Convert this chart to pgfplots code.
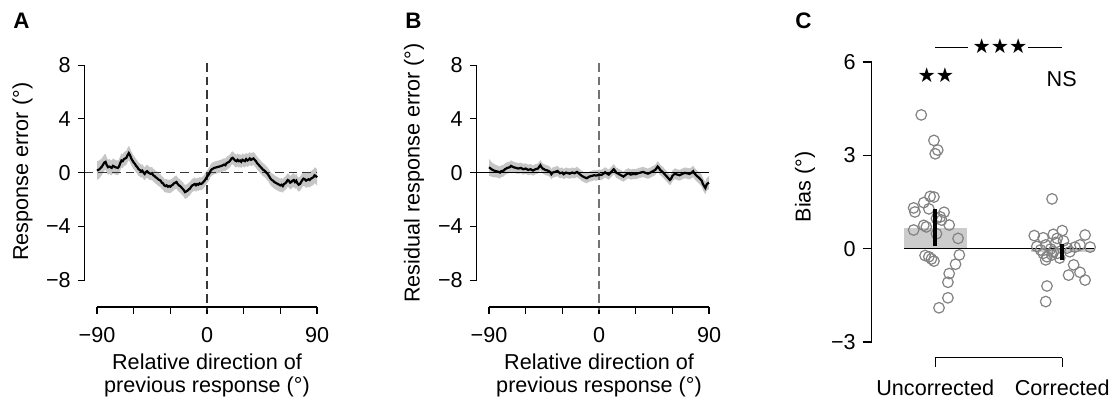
\documentclass[border=0pt]{standalone}
\usepackage{fontspec}
\setmainfont{Liberation Sans}
\newfontfamily\dejavu{DejaVu Sans}
\usepackage{pgfplots}
\pgfplotsset{compat=1.18}
\usepackage{pgfplotstable}
\definecolor{band}{RGB}{198,198,198}
\definecolor{bargray}{RGB}{204,204,204}
\definecolor{circ}{RGB}{130,130,130}
\definecolor{dashA}{RGB}{55,55,55}
\definecolor{dashB}{RGB}{115,115,115}
\newcommand\fs{\fontsize{10.8}{12.8}\selectfont}

\pgfplotstableread{
x y e
-90 0.15 0.70
-88 0.25 0.66
-86 0.45 0.62
-84 0.75 0.60
-83 0.80 0.58
-82 0.55 0.57
-81 0.40 0.56
-80 0.45 0.55
-78 0.35 0.55
-77 0.50 0.55
-75 0.40 0.54
-73 0.35 0.54
-72 0.45 0.53
-71 0.70 0.53
-70 0.90 0.52
-69 0.85 0.52
-68 1.00 0.52
-67 1.05 0.52
-66 1.10 0.53
-65 1.30 0.53
-64 1.45 0.54
-63 1.30 0.53
-62 1.05 0.52
-61 0.90 0.51
-60 0.75 0.50
-59 0.65 0.50
-58 0.50 0.50
-57 0.40 0.49
-56 0.25 0.49
-55 0.20 0.49
-54 0.10 0.48
-53 0.15 0.48
-52 0.00 0.48
-51 -0.10 0.48
-50 0.05 0.48
-49 0.10 0.48
-48 0.00 0.48
-47 -0.05 0.48
-46 -0.10 0.48
-45 -0.05 0.48
-44 -0.20 0.48
-43 -0.25 0.48
-42 -0.35 0.48
-41 -0.40 0.48
-40 -0.50 0.48
-39 -0.55 0.48
-38 -0.60 0.48
-37 -0.75 0.48
-36 -0.80 0.48
-35 -0.95 0.49
-34 -1.00 0.49
-33 -0.95 0.49
-32 -1.05 0.49
-31 -1.00 0.49
-30 -1.05 0.49
-29 -0.95 0.49
-28 -0.90 0.49
-27 -0.80 0.49
-26 -0.75 0.49
-25 -0.70 0.49
-24 -0.85 0.49
-23 -0.95 0.49
-22 -1.00 0.49
-21 -1.10 0.50
-20 -1.20 0.50
-19 -1.30 0.50
-18 -1.45 0.51
-17 -1.40 0.51
-16 -1.35 0.51
-15 -1.25 0.50
-14 -1.20 0.50
-13 -1.05 0.49
-12 -0.95 0.49
-11 -0.90 0.48
-10 -0.85 0.48
-9 -0.95 0.48
-8 -0.85 0.47
-7 -0.90 0.47
-6 -0.80 0.47
-5 -0.85 0.47
-4 -0.80 0.47
-3 -0.70 0.47
-2 -0.60 0.47
-1 -0.45 0.47
0 -0.30 0.47
1 -0.20 0.47
2 -0.05 0.47
3 0.15 0.47
4 0.25 0.47
5 0.30 0.47
6 0.35 0.47
8 0.40 0.47
10 0.45 0.47
12 0.50 0.47
14 0.60 0.47
15 0.55 0.47
16 0.70 0.48
18 0.80 0.48
19 0.90 0.48
20 1.05 0.48
21 1.10 0.48
22 1.00 0.48
23 0.90 0.48
24 0.85 0.48
25 0.95 0.48
26 0.85 0.48
27 0.90 0.48
28 0.80 0.48
29 0.95 0.48
30 0.90 0.48
31 0.85 0.48
32 1.00 0.48
33 0.90 0.48
34 0.95 0.48
35 1.05 0.48
36 0.95 0.48
37 1.00 0.48
38 1.05 0.48
39 0.95 0.48
40 0.85 0.48
41 0.70 0.48
42 0.60 0.48
43 0.50 0.48
44 0.40 0.48
45 0.30 0.48
46 0.20 0.48
47 0.15 0.48
48 0.05 0.48
49 -0.05 0.48
50 -0.15 0.48
51 -0.30 0.49
52 -0.45 0.49
53 -0.55 0.49
54 -0.60 0.50
55 -0.70 0.50
56 -0.75 0.50
57 -0.80 0.50
58 -0.85 0.50
59 -0.90 0.50
60 -0.95 0.50
61 -0.90 0.50
62 -1.00 0.50
63 -0.85 0.50
64 -0.80 0.50
65 -0.70 0.50
66 -0.55 0.50
67 -0.60 0.50
68 -0.75 0.50
69 -0.70 0.51
70 -0.60 0.51
71 -0.55 0.51
72 -0.70 0.51
73 -0.60 0.52
74 -0.80 0.52
75 -0.90 0.52
76 -0.85 0.52
77 -0.70 0.53
78 -0.55 0.53
79 -0.45 0.53
80 -0.50 0.54
81 -0.60 0.54
82 -0.55 0.55
83 -0.50 0.55
84 -0.55 0.56
85 -0.45 0.56
86 -0.40 0.57
87 -0.35 0.58
88 -0.20 0.59
89 -0.25 0.60
90 -0.35 0.60
}\dataA

\pgfplotstableread{
x y e
-90 0.40 0.62
-88 0.25 0.55
-86 0.15 0.50
-84 0.10 0.46
-82 0.05 0.45
-81 0.00 0.44
-80 0.10 0.44
-78 0.15 0.43
-77 0.25 0.43
-75 0.35 0.43
-73 0.40 0.42
-72 0.50 0.42
-70 0.40 0.41
-68 0.35 0.41
-66 0.30 0.40
-64 0.35 0.40
-62 0.25 0.40
-60 0.30 0.39
-58 0.20 0.39
-56 0.25 0.39
-54 0.15 0.38
-52 0.25 0.38
-50 0.30 0.38
-48 0.55 0.38
-47 0.40 0.38
-46 0.30 0.38
-44 0.20 0.38
-42 0.15 0.38
-40 0.05 0.38
-39 -0.12 0.38
-38 0.00 0.38
-36 0.05 0.38
-34 0.12 0.38
-32 -0.05 0.38
-30 0.00 0.38
-29 -0.12 0.38
-27 0.00 0.38
-25 -0.05 0.38
-24 -0.08 0.38
-22 0.00 0.38
-20 -0.05 0.38
-18 0.05 0.38
-16 -0.10 0.38
-14 -0.25 0.38
-12 -0.35 0.38
-10 -0.42 0.38
-8 -0.30 0.38
-6 -0.25 0.38
-4 -0.20 0.38
-2 -0.22 0.38
0 -0.15 0.38
2 -0.18 0.38
4 -0.05 0.38
5 0.02 0.38
6 -0.05 0.38
8 -0.15 0.38
10 0.05 0.38
12 0.25 0.38
13 0.15 0.38
14 0.00 0.38
16 -0.10 0.38
18 -0.20 0.38
20 -0.30 0.38
22 -0.15 0.38
24 -0.05 0.38
26 -0.15 0.38
28 -0.10 0.38
30 -0.12 0.38
32 -0.05 0.38
34 0.00 0.38
36 0.05 0.38
38 -0.02 0.38
40 -0.08 0.38
42 0.00 0.38
44 0.10 0.38
46 0.20 0.38
48 0.45 0.39
49 0.35 0.39
50 0.20 0.39
52 0.05 0.39
54 -0.15 0.39
56 -0.35 0.39
58 -0.55 0.39
59 -0.45 0.39
60 -0.25 0.39
62 -0.08 0.40
64 -0.15 0.40
66 -0.20 0.40
68 -0.10 0.40
70 -0.02 0.40
72 -0.05 0.41
74 -0.10 0.41
76 0.00 0.41
77 0.10 0.42
78 -0.05 0.42
80 -0.25 0.42
82 -0.40 0.43
84 -0.60 0.44
85 -0.85 0.45
86 -1.00 0.45
87 -1.15 0.46
88 -0.90 0.47
89 -0.80 0.48
90 -0.75 0.48
}\dataB

\pgfplotstableread{
x y
0.89 4.30
0.99 3.48
1.02 3.17
1.00 3.05
0.96 1.68
0.99 1.66
0.91 1.48
0.83 1.31
0.84 1.18
0.95 1.28
1.07 1.17
1.04 1.02
1.05 0.92
1.01 0.97
0.91 0.75
0.93 0.70
0.83 0.60
1.11 0.76
1.01 0.48
1.18 0.33
0.92 -0.22
0.95 -0.26
0.97 -0.33
0.99 -0.40
1.19 -0.20
1.16 -0.50
1.11 -0.80
1.10 -1.08
1.10 -1.58
1.03 -1.90
}\dataCu

\pgfplotstableread{
x y
1.92 1.60
1.78 0.42
1.85 0.35
1.93 0.46
2.00 0.58
1.96 0.33
2.01 0.25
2.18 0.44
2.14 0.12
2.10 0.05
1.80 0.07
1.87 0.12
1.91 -0.01
1.93 -0.10
1.85 -0.15
1.83 -0.04
1.88 -0.26
1.87 -0.36
1.92 -0.20
1.96 -0.15
2.04 0.02
2.06 -0.10
1.98 -0.30
2.09 -0.52
2.05 -0.85
2.14 -0.76
2.18 -1.01
1.88 -1.20
1.87 -1.70
2.22 0.05
1.95 0.20
}\dataCc

\pgfplotsset{
  panel/.style={
    anchor=south west,
    axis line style={draw=none},
    tick pos=left, tick align=outside,
    every tick/.style={black, line width=0.55pt},
    ticklabel style={font=\fs},
    xticklabel style={yshift=-3.3pt},
    clip=false,
  },
  curvepanel/.style={
    panel,
    x=0.6111pt, y=6.72pt,
    xmin=-100, xmax=92, ymin=-10, ymax=8.5,
    major tick length=3.5pt,
    xtick={-90,-60,-30,0,30,60,90},
    xticklabels={−90,,,0,,,90},
    ytick={-8,-4,0,4,8},
    yticklabels={−8,−4,0,4,8},
  },
  cgeom/.style={
    anchor=south west, clip=false,
    at={(435.85pt,23.72pt)},
    x=63.5pt, y=15.555pt,
    xmin=0.5, xmax=2.3, ymin=-3.5, ymax=6.5,
  },
}

\begin{document}
\begin{tikzpicture}[font=\fs]
\path[use as bounding box] (0,0) rectangle (556pt,202.5pt);

% ---------- Panel A ----------
\begin{axis}[curvepanel, at={(42.4pt,49pt)}]
\addplot[draw=none, stack plots=y] table[x=x, y expr=\thisrow{y}-\thisrow{e}] {\dataA};
\addplot[fill=band, draw=none, stack plots=y] table[x=x, y expr=2*\thisrow{e}] {\dataA} \closedcycle;
\addplot[dashA, line width=0.55pt, dash pattern=on 4.3pt off 2.5pt] coordinates {(-100,0) (90,0)};
\addplot[dashA, line width=0.55pt, dash pattern=on 4.3pt off 2.5pt] coordinates {(0,8.15) (0,-10.25)};
\addplot[black, line width=1.1pt] table[x=x, y=y] {\dataA};
\draw[line width=0.55pt] (axis cs:-100,-8) -- (axis cs:-100,8);
\draw[line width=0.55pt] (axis cs:-90,-10) -- (axis cs:90,-10);
\end{axis}

% ---------- Panel B ----------
\begin{axis}[curvepanel, at={(238.4pt,49pt)}]
\addplot[draw=none, stack plots=y] table[x=x, y expr=\thisrow{y}-\thisrow{e}] {\dataB};
\addplot[fill=band, draw=none, stack plots=y] table[x=x, y expr=2*\thisrow{e}] {\dataB} \closedcycle;
\addplot[black, line width=0.5pt] coordinates {(-100,0) (90,0)};
\addplot[dashB, line width=0.55pt, dash pattern=on 4.3pt off 2.5pt] coordinates {(0,8.15) (0,-10.25)};
\addplot[black, line width=1.1pt] table[x=x, y=y] {\dataB};
\draw[line width=0.55pt] (axis cs:-100,-8) -- (axis cs:-100,8);
\draw[line width=0.55pt] (axis cs:-90,-10) -- (axis cs:90,-10);
\end{axis}

% ---------- Panel C ----------
\begin{axis}[panel, cgeom,
  major tick length=4.5pt,
  xtick={1,2}, xticklabels={Uncorrected,Corrected},
  ytick={-3,0,3,6}, yticklabels={−3,0,3,6},
]
\addplot[fill=bargray, draw=none] coordinates {(0.756,0) (1.25,0) (1.25,0.68) (0.756,0.68)} -- cycle;
\addplot[fill=bargray, draw=none] coordinates {(1.754,0) (2.247,0) (2.247,-0.10) (1.754,-0.10)} -- cycle;
\addplot[black, line width=0.6pt] coordinates {(0.756,0) (2.247,0)};
\addplot[only marks, mark=o, mark size=2.65pt, mark options={draw=circ, fill=none, line width=0.6pt}] table[x=x,y=y] {\dataCu};
\addplot[only marks, mark=o, mark size=2.65pt, mark options={draw=circ, fill=none, line width=0.6pt}] table[x=x,y=y] {\dataCc};
\draw[line width=0.55pt] (axis cs:0.5,-3) -- (axis cs:0.5,6);
\draw[line width=0.55pt] (axis cs:1,-3.5) -- (axis cs:2,-3.5);
\end{axis}
% error bars on top of the circles
\begin{axis}[cgeom, hide axis]
\addplot[black, line width=1.9pt] coordinates {(1.0,0.10) (1.0,1.28)};
\addplot[black, line width=1.9pt] coordinates {(2.0,-0.36) (2.0,0.15)};
\end{axis}

% ---------- Text ----------
\node[anchor=base west, inner sep=0, font=\fontsize{11.2}{13}\selectfont\bfseries] at (6.5pt,188pt) {A};
\node[anchor=base west, inner sep=0, font=\fontsize{11.2}{13}\selectfont\bfseries] at (202.5pt,188pt) {B};
\node[anchor=base west, inner sep=0, font=\fontsize{11.2}{13}\selectfont\bfseries] at (397.5pt,188pt) {C};

\node[rotate=90, inner sep=0] at (11.25pt,116.65pt) {Response error (°)};
\node[rotate=90, inner sep=0] at (207pt,116pt) {Residual response error (°)};
\node[rotate=90, inner sep=0] at (402.5pt,109.15pt) {Bias (°)};

\node[anchor=base, inner sep=0] at (103.5pt,17.5pt) {Relative direction of};
\node[anchor=base, inner sep=0] at (103.5pt,6pt) {previous response (°)};
\node[anchor=base, inner sep=0] at (299.5pt,17.5pt) {Relative direction of};
\node[anchor=base, inner sep=0] at (299.5pt,6pt) {previous response (°)};

\draw[line width=0.5pt] (467.5pt,178.65pt) -- (484.2pt,178.65pt);
\draw[line width=0.5pt] (514.2pt,178.65pt) -- (530.85pt,178.65pt);
\node[inner sep=0, font=\dejavu\fontsize{10.2}{11}\selectfont] at (500pt,179.3pt) {★★★};
\node[inner sep=0, font=\dejavu\fontsize{10.2}{11}\selectfont] at (467.9pt,165pt) {★★};
\node[anchor=base, inner sep=0] at (530.85pt,159.15pt) {NS};
\end{tikzpicture}
\end{document}
